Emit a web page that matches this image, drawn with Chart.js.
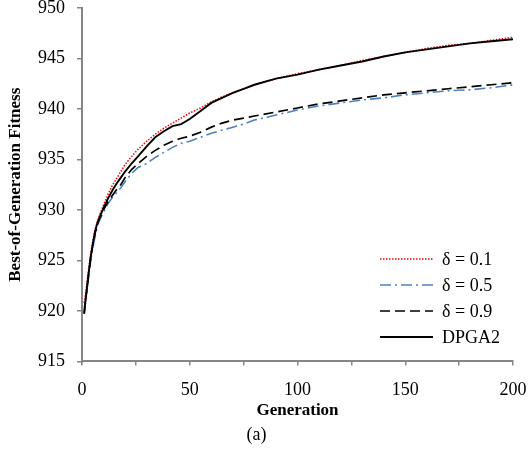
<!DOCTYPE html>
<html>
<head>
<meta charset="utf-8">
<script src="https://cdn.jsdelivr.net/npm/chart.js@4.4.1/dist/chart.umd.min.js"></script>
<style>
  html, body { margin: 0; padding: 0; background: #fff; }
  #wrap { width: 531px; height: 461px; position: relative; }
</style>
</head>
<body>
<div id="wrap"><canvas id="fitness"></canvas></div>
<script>
// generation samples
const generations = [1, 2, 3, 4, 5, 6, 7, 8, 10, 12, 14, 16, 18, 20, 23, 26, 30, 34, 38, 42, 46, 50,
    55, 60, 65, 70, 75, 80, 90, 100, 110, 120, 130, 140, 150, 160, 170, 180, 190, 200];

const delta01 = [920.8, 922.2, 924.0, 925.6, 926.9, 928.0, 928.8, 929.4, 930.5, 931.5, 932.4, 933.1,
    933.8, 934.5, 935.3, 936.0, 936.8, 937.5, 938.1, 938.6, 939.1, 939.6, 940.1, 940.7, 941.2, 941.6,
    942.0, 942.4, 943.0, 943.5, 943.9, 944.3, 944.8, 945.2, 945.6, 946.0, 946.3, 946.5, 946.8, 947.1];

const delta05 = [920.3, 921.4, 923.2, 924.9, 926.2, 927.3, 928.3, 928.9, 929.8, 930.6, 931.2, 931.7,
    932.2, 932.8, 933.6, 934.2, 934.6, 935.2, 935.7, 936.2, 936.6, 936.8, 937.2, 937.6, 937.9, 938.2,
    938.5, 938.9, 939.4, 939.9, 940.3, 940.6, 940.9, 941.1, 941.4, 941.6, 941.8, 941.9, 942.1, 942.4];

const delta09 = [919.8, 921.6, 923.5, 925.2, 926.5, 927.6, 928.5, 929.1, 930.0, 930.8, 931.4, 932.0,
    932.5, 933.2, 934.0, 934.6, 935.3, 935.9, 936.4, 936.8, 937.1, 937.3, 937.7, 938.2, 938.6, 938.9,
    939.1, 939.3, 939.7, 940.1, 940.5, 940.8, 941.1, 941.4, 941.6, 941.8, 942.0, 942.2, 942.4, 942.6];

const dpga2 = [919.7, 921.8, 923.6, 925.3, 926.6, 927.8, 928.6, 929.2, 930.2, 931.1, 931.9, 932.6,
    933.2, 933.8, 934.6, 935.3, 936.3, 937.2, 937.8, 938.3, 938.5, 939.0, 939.8, 940.6, 941.1, 941.6,
    942.0, 942.4, 943.0, 943.4, 943.9, 944.3, 944.7, 945.2, 945.6, 945.9, 946.2, 946.5, 946.7, 946.9];

const seriesNames = ['\u03b4 = 0.1', '\u03b4 = 0.5', '\u03b4 = 0.9', 'DPGA2'];

const SERIF = "'Liberation Serif', 'Times New Roman', serif";
const AXIS = '#868686';

function points(vals) {
    return generations.map((g, i) => ({ x: g, y: vals[i] }));
}

// legend drawn inside the plot, lower right, with line samples
const lineLegend = {
    id: 'lineLegend',
    afterDraw(chart) {
        const ctx = chart.ctx;
        const x0 = 380, x1 = 433, tx = 442;
        let y = 259;
        ctx.save();
        ctx.font = '18px ' + SERIF;
        ctx.textBaseline = 'middle';
        ctx.fillStyle = '#000';
        chart.data.datasets.forEach((ds) => {
            ctx.strokeStyle = ds.borderColor;
            ctx.lineWidth = ds.borderWidth;
            ctx.setLineDash(ds.borderDash || []);
            ctx.beginPath();
            ctx.moveTo(x0, y);
            ctx.lineTo(x1, y);
            ctx.stroke();
            ctx.fillText(ds.label, tx, y + 1);
            y += 26;
        });
        ctx.restore();
    },
};

new Chart(document.getElementById('fitness'), {
    type: 'line',
    data: {
        datasets: [
            {
                label: seriesNames[0],
                data: points(delta01),
                borderColor: '#ff0000',
                borderWidth: 1.5,
                borderDash: [1.5, 1.5],
                order: 3,
            },
            {
                label: seriesNames[1],
                data: points(delta05),
                borderColor: '#4f81bd',
                borderWidth: 1.6,
                borderDash: [11, 4, 2, 4],
                order: 2,
            },
            {
                label: seriesNames[2],
                data: points(delta09),
                borderColor: '#000000',
                borderWidth: 1.7,
                borderDash: [10, 5],
                order: 1,
            },
            {
                label: seriesNames[3],
                data: points(dpga2),
                borderColor: '#000000',
                borderWidth: 1.9,
                order: 0,
            },
        ],
    },
    options: {
        responsive: true,
        maintainAspectRatio: false,
        animation: false,
        layout: { padding: { left: 0, right: 18, top: 0, bottom: 0 } },
        elements: { point: { radius: 0 }, line: { tension: 0, fill: false } },
        plugins: {
            legend: { display: false },
            tooltip: { enabled: false },
            title: {
                display: true,
                position: 'bottom',
                text: '(a)',
                color: '#000',
                font: { family: SERIF, size: 18, weight: 'normal' },
                padding: { top: 4, bottom: 15 },
            },
        },
        scales: {
            x: {
                type: 'linear',
                min: 0,
                max: 200,
                ticks: {
                    stepSize: 25,
                    autoSkip: false,
                    maxRotation: 0,
                    padding: 14,
                    color: '#000',
                    font: { family: SERIF, size: 18 },
                    callback: (v) => (v % 50 === 0 ? v : ''),
                },
                grid: { display: true, drawOnChartArea: false, drawTicks: true, tickLength: 4, color: AXIS, lineWidth: 1.5 },
                border: { display: true, color: AXIS, width: 2 },
                title: {
                    display: true,
                    text: 'Generation',
                    color: '#000',
                    font: { family: SERIF, size: 17, weight: 'bold' },
                    padding: { top: 1, bottom: 0 },
                },
                afterFit: (s) => { s.height = 59; s.paddingRight = 0; s.paddingLeft = 0; },
            },
            y: {
                min: 915,
                max: 950,
                ticks: {
                    stepSize: 5,
                    padding: 12,
                    color: '#000',
                    font: { family: SERIF, size: 18 },
                },
                grid: { display: true, drawOnChartArea: false, drawTicks: true, tickLength: 5, color: AXIS, lineWidth: 1.5 },
                border: { display: true, color: AXIS, width: 2 },
                title: {
                    display: true,
                    text: 'Best-of-Generation Fitness',
                    color: '#000',
                    font: { family: SERIF, size: 17, weight: 'bold' },
                    padding: { top: 5, bottom: 0 },
                },
                afterFit: (s) => { s.width = 82; s.paddingTop = 8; s.paddingBottom = 0; },
            },
        },
    },
    plugins: [lineLegend],
});
</script>
</body>
</html>
